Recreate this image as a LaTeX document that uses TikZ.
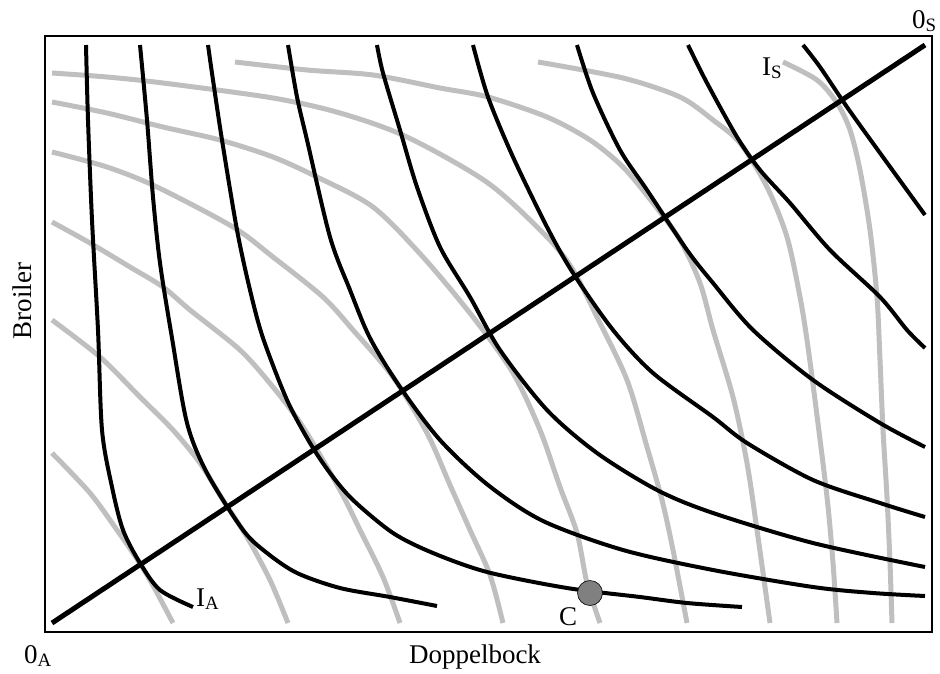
\documentclass[tikz,border=0pt]{standalone}
\usepackage{fontspec}
\setmainfont{Liberation Serif}
\usepackage{tikz}
\usetikzlibrary{positioning}

\begin{document}
\begin{tikzpicture}[x=1pt, y=-1pt,
  acurve/.style={line width=4, black, line join=round},
  scurve/.style={line width=5, gray!50, line join=round},
  lbl/.style={font=\fontsize{27}{30}\selectfont, inner sep=0pt}
]
\useasboundingbox (0,0) rectangle (940,673);
\draw[line width=2.5] (45,36) rectangle (932,632);

\draw[scurve] plot[smooth] coordinates {(52,453) (90,493) (117,530) (133,553) (150,580) (173,623)};
\draw[scurve] plot[smooth] coordinates {(52,320) (100,357) (140,397) (173,430) (200,463) (223,500) (247,537) (270,580) (288,623)};
\draw[scurve] plot[smooth] coordinates {(52,222) (90,243) (130,267) (163,287) (190,310) (240,350) (273,387) (303,427) (340,490) (360,530) (383,577) (400,623)};
\draw[scurve] plot[smooth] coordinates {(52,152) (107,167) (157,187) (233,227) (273,257) (323,297) (353,330) (393,377) (427,433) (450,485) (470,530) (490,575) (503,623)};
\draw[scurve] plot[smooth] coordinates {(52,102) (107,113) (163,127) (220,140) (273,157) (317,177) (373,207) (423,257) (473,317) (513,373) (540,430) (560,487) (577,533) (587,583) (600,623)};
\draw[scurve] plot[smooth] coordinates {(52,73) (107,77) (163,83) (273,98) (340,113) (407,137) (488,183) (547,237) (573,270) (597,317) (627,380) (647,447) (662,500) (673,550) (687,623)};
\draw[scurve] plot[smooth] coordinates {(235,62) (307,70) (373,75) (440,88) (488,97) (547,117) (590,140) (623,167) (653,203) (680,240) (700,283) (713,330) (733,397) (747,463) (757,530) (770,623)};
\draw[scurve] plot[smooth] coordinates {(538,62) (623,78) (680,97) (713,120) (740,143) (767,187) (787,237) (800,297) (807,340) (815,400) (827,497) (833,563) (837,623)};
\draw[scurve] plot[smooth] coordinates {(783,62) (817,80) (837,103) (850,130) (860,170) (870,230) (877,297) (880,360) (883,430) (887,497) (890,563) (892,623)};

\draw[acurve] plot[smooth] coordinates {(86,45) (88,120) (92,220) (98,330) (102,430) (112,487) (123,530) (140,563) (160,590) (193,607)};
\draw[acurve] plot[smooth] coordinates {(140,45) (147,120) (153,197) (160,263) (172,338) (187,423) (207,473) (243,530) (267,553) (297,573) (340,588) (390,597) (437,606)};
\draw[acurve] plot[smooth] coordinates {(208,45) (213,80) (222,140) (237,230) (250,290) (263,338) (287,400) (310,443) (330,473) (353,500) (393,533) (433,553) (487,572) (567,588) (640,597) (687,603) (742,607)};
\draw[acurve] plot[smooth] coordinates {(288,45) (297,97) (307,140) (330,237) (350,290) (370,338) (400,387) (440,440) (488,485) (543,521) (623,550) (713,570) (813,587) (873,593) (925,596)};
\draw[acurve] plot[smooth] coordinates {(377,45) (383,73) (400,130) (417,187) (440,247) (470,297) (500,350) (547,410) (597,453) (657,490) (713,513) (813,543) (925,567)};
\draw[acurve] plot[smooth] coordinates {(473,45) (488,97) (513,157) (547,227) (573,273) (613,330) (653,373) (713,417) (747,443) (813,480) (880,503) (925,517)};
\draw[acurve] plot[smooth] coordinates {(577,45) (593,93) (620,150) (647,190) (687,250) (713,283) (753,330) (813,380) (880,423) (925,447)};
\draw[acurve] plot[smooth] coordinates {(688,45) (707,83) (737,137) (760,170) (790,203) (830,250) (880,297) (907,330) (925,348)};
\draw[acurve] plot[smooth] coordinates {(803,45) (820,67) (847,107) (880,153) (925,215)};

\coordinate (oa) at (52,623);
\coordinate (os) at (925,45);
\draw[line width=5] (oa) -- (os);

\node[circle, draw, fill=gray, minimum size=25, inner sep=0, line width=0.6] (cpt) at (590,593) {};

\node[lbl, anchor=base] (clabel) at (568,625) {C};
\node[lbl, anchor=base west] (ia) at (196,606) {I\textsubscript{A}};
\node[lbl, anchor=base west] (is) at (762,75) {I\textsubscript{S}};
\node[lbl, anchor=base west] (zeroa) at (24,663) {0\textsubscript{A}};
\node[lbl, anchor=base west] (zeros) at (912,28) {0\textsubscript{S}};
\node[lbl, anchor=base] (xlabel) at (475,663) {Doppelbock};
\node[lbl, rotate=90] (ylabel) at (22,301) {Broiler};
\end{tikzpicture}
\end{document}
